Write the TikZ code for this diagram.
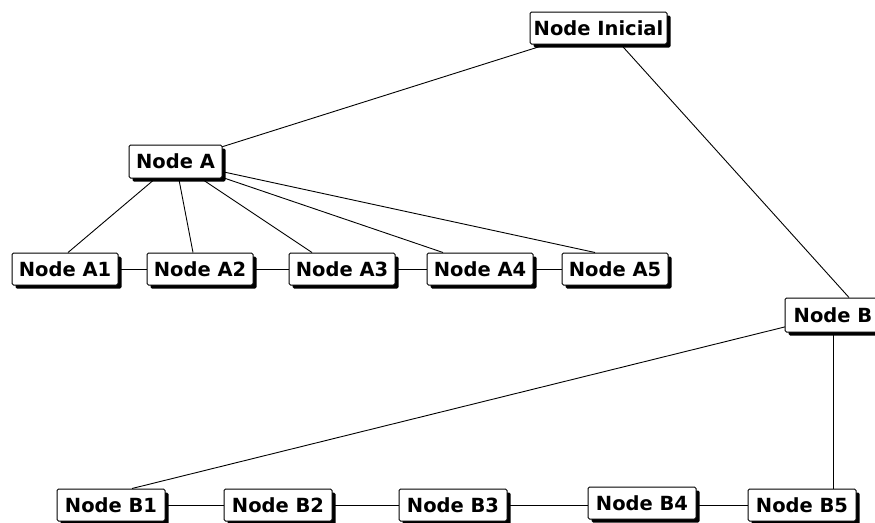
\documentclass[tikz,border=0pt]{standalone}
\usepackage{fontspec}
\setmainfont{DejaVu Sans}
\usetikzlibrary{shadows,backgrounds,calc}
\begin{document}
\begin{tikzpicture}[x=1pt,y=-1pt,
  box/.style={draw=black, line width=1pt, fill=white, rounded corners=1.5pt,
    font=\fontsize{19.5}{23}\selectfont\bfseries, inner sep=0pt,
    minimum height=32pt, align=center,
    drop shadow={shadow xshift=3.5pt, shadow yshift=-3.5pt, fill=black, opacity=1}},
  rowbox/.style={box, minimum width=106pt},
  brow/.style={box, minimum width=108pt},
  link/.style={draw=black, line width=0.9pt}]
\useasboundingbox (0,0) rectangle (875,522);
\clip (0,0) rectangle (875,522);
\node[box, minimum width=137pt] (ini) at (598.5,28) {Node Inicial};
\node[box, minimum width=93pt, minimum height=33pt] (a) at (175.5,161.5) {Node A};
\node[rowbox] (a1) at (65,269) {Node A1};
\node[rowbox] (a2) at (200,269) {Node A2};
\node[rowbox] (a3) at (342,269) {Node A3};
\node[rowbox] (a4) at (480,269) {Node A4};
\node[rowbox] (a5) at (615,269) {Node A5};
\node[box, minimum width=96pt, minimum height=34pt] (b) at (833,315) {Node B};
\node[brow] (b1) at (111,505) {Node B1};
\node[brow] (b2) at (278,505) {Node B2};
\node[brow] (b3) at (453,505) {Node B3};
\node[brow] (b4) at (642,503) {Node B4};
\node[brow] (b5) at (802,505) {Node B5};
\begin{scope}[on background layer]
  \draw[link] (ini.center) -- (a.center);
  \draw[link] ($(ini.center)+(7.5,0)$) -- ($(b.north)+(16,0)$);
  \draw[link] (a.center) -- ($(a1.north)+(3,0)$);
  \draw[link] (a.center) -- ($(a2.north)+(-7,0)$);
  \draw[link] (a.center) -- ($(a3.north)+(-30,0)$);
  \draw[link] (a.center) -- ($(a4.north)+(-37,0)$);
  \draw[link] (a.center) -- ($(a5.north)+(-20,0)$);
  \draw[link] (a1) -- (a2);
  \draw[link] (a2) -- (a3);
  \draw[link] (a3) -- (a4);
  \draw[link] (a4) -- (a5);
  \draw[link] (b.center) -- ($(b1.north)+(21,0)$);
  \draw[link] (b.center) -- (b.center |- b5.north);
  \draw[link] (b1.center) -- (b2.center);
  \draw[link] (b2.center) -- (b3.center);
  \draw[link] (b3.center) -- (b4.center |- b3.center);
  \draw[link] (b4.center |- b5.center) -- (b5.center);
\end{scope}
\end{tikzpicture}
\end{document}
